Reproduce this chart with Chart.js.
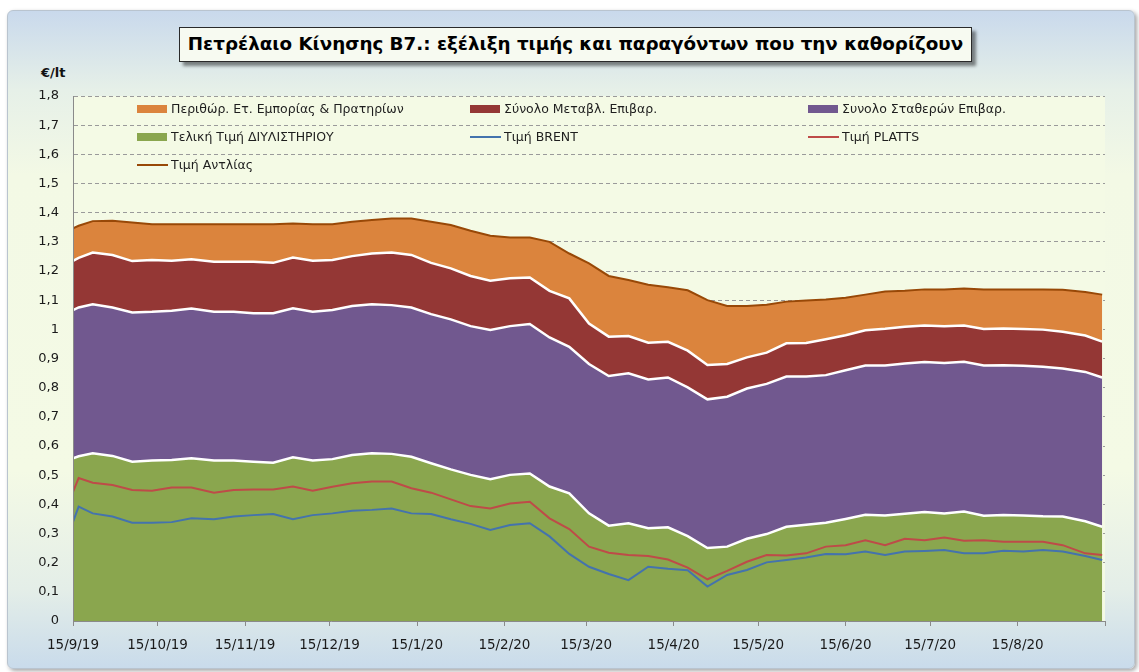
<!DOCTYPE html>
<html>
<head>
<meta charset="utf-8">
<script src="https://cdn.jsdelivr.net/npm/chart.js@4/dist/chart.umd.min.js"></script>
<style>
  html, body { margin: 0; padding: 0; background: #ffffff; }
  #wrap { position: relative; width: 1139px; height: 672px; overflow: hidden; }
  #frame {
    position: absolute; left: 7px; top: 10px; width: 1126px; height: 657px;
    border: 1px solid #b9c4cf; border-radius: 6px;
    background: linear-gradient(to bottom, #c9d9ec 0%, #e6f0e8 12%, #f3f9e5 25%, #f4fae5 70%, #e4eee8 88%, #c9dbeb 100%);
    box-shadow: 2px 2px 4px rgba(0,0,0,0.35);
  }
  #title {
    position: absolute; left: 179px; top: 27px; width: 793px; height: 35px; box-sizing: border-box;
    border: 1.5px solid #2a2a2a; background: #f7faf1;
    box-shadow: 4px 4px 3px rgba(0,0,0,0.45);
    font: bold 18.3px "DejaVu Sans", sans-serif; color: #000; text-align: center; line-height: 32px;
    white-space: nowrap;
  }
  #unit { position: absolute; left: 41px; top: 65px; font: bold 13px "DejaVu Sans", sans-serif; color: #111; }
  #c { position: absolute; left: 0; top: 0; }
</style>
</head>
<body>
<div id="wrap">
  <div id="frame"></div>
  <div id="title">Πετρέλαιο Κίνησης Β7.: εξέλιξη τιμής και παραγόντων που την καθορίζουν</div>
  <div id="unit">€/lt</div>
  <canvas id="c" width="1139" height="672"></canvas>
</div>
<script>
// days since 15/9/2019
const dayOffsets = [0, 2, 7, 14, 21, 28, 35, 42, 50, 57, 64, 71, 78, 85, 92, 99, 106, 113, 120, 127,
  134, 141, 148, 155, 162, 169, 176, 183, 190, 197, 204, 211, 218, 225, 232, 239, 246, 253, 260, 267,
  274, 281, 288, 295, 302, 309, 316, 323, 330, 337, 344, 351, 359, 365];

// stacked parts, €/lt
const refineryPrice = [0.558, 0.565, 0.575, 0.566, 0.546, 0.550, 0.552, 0.558, 0.550, 0.550, 0.546, 0.543, 0.561, 0.550, 0.555, 0.569, 0.575, 0.573, 0.563, 0.541,
  0.520, 0.501, 0.486, 0.501, 0.506, 0.461, 0.438, 0.369, 0.327, 0.335, 0.318, 0.321, 0.291, 0.250, 0.255, 0.282, 0.298, 0.323, 0.330, 0.337,
  0.350, 0.364, 0.362, 0.368, 0.374, 0.369, 0.375, 0.361, 0.363, 0.362, 0.359, 0.358, 0.342, 0.323];
const fixedTaxes = [0.508, 0.510, 0.511, 0.509, 0.512, 0.510, 0.512, 0.513, 0.510, 0.510, 0.509, 0.512, 0.511, 0.510, 0.511, 0.511, 0.511, 0.510, 0.512, 0.511,
  0.514, 0.510, 0.512, 0.510, 0.512, 0.511, 0.502, 0.512, 0.513, 0.514, 0.510, 0.514, 0.510, 0.510, 0.514, 0.515, 0.515, 0.515, 0.508, 0.506,
  0.510, 0.512, 0.514, 0.515, 0.514, 0.516, 0.514, 0.515, 0.514, 0.513, 0.513, 0.508, 0.512, 0.512];
const variableTaxes = [0.169, 0.170, 0.177, 0.180, 0.176, 0.178, 0.171, 0.169, 0.172, 0.172, 0.177, 0.173, 0.174, 0.175, 0.172, 0.171, 0.174, 0.180, 0.180, 0.176,
  0.175, 0.172, 0.169, 0.164, 0.160, 0.160, 0.166, 0.139, 0.135, 0.128, 0.126, 0.122, 0.126, 0.118, 0.112, 0.107, 0.107, 0.114, 0.115, 0.123,
  0.120, 0.121, 0.126, 0.126, 0.125, 0.126, 0.124, 0.125, 0.126, 0.126, 0.127, 0.126, 0.125, 0.123];
const retailMargin = [0.111, 0.110, 0.108, 0.117, 0.132, 0.122, 0.125, 0.120, 0.128, 0.128, 0.128, 0.132, 0.117, 0.125, 0.122, 0.118, 0.115, 0.117, 0.125, 0.141,
  0.149, 0.155, 0.154, 0.140, 0.137, 0.168, 0.154, 0.206, 0.208, 0.192, 0.199, 0.187, 0.207, 0.222, 0.199, 0.176, 0.164, 0.143, 0.146, 0.136,
  0.128, 0.122, 0.128, 0.123, 0.124, 0.126, 0.127, 0.136, 0.134, 0.136, 0.138, 0.144, 0.149, 0.161];

// line series
const pumpPrice = [1.346, 1.355, 1.371, 1.372, 1.366, 1.360, 1.360, 1.360, 1.360, 1.360, 1.360, 1.360, 1.363, 1.360, 1.360, 1.369, 1.375, 1.380, 1.380, 1.369,
  1.358, 1.338, 1.321, 1.315, 1.315, 1.300, 1.260, 1.226, 1.183, 1.169, 1.153, 1.144, 1.134, 1.100, 1.080, 1.080, 1.084, 1.095, 1.099, 1.102,
  1.108, 1.119, 1.130, 1.132, 1.137, 1.137, 1.140, 1.137, 1.137, 1.137, 1.137, 1.136, 1.128, 1.119];
const brentPrice = [0.340, 0.392, 0.369, 0.358, 0.337, 0.337, 0.339, 0.352, 0.349, 0.358, 0.363, 0.367, 0.349, 0.363, 0.369, 0.378, 0.381, 0.386, 0.369, 0.367,
  0.349, 0.333, 0.312, 0.329, 0.335, 0.290, 0.230, 0.186, 0.161, 0.140, 0.186, 0.179, 0.174, 0.118, 0.158, 0.175, 0.201, 0.209, 0.218, 0.230,
  0.229, 0.238, 0.226, 0.238, 0.240, 0.243, 0.232, 0.232, 0.241, 0.238, 0.243, 0.238, 0.223, 0.209];
const plattsPrice = [0.443, 0.490, 0.474, 0.466, 0.449, 0.447, 0.458, 0.458, 0.440, 0.449, 0.451, 0.451, 0.461, 0.447, 0.460, 0.472, 0.478, 0.478, 0.455, 0.440,
  0.417, 0.394, 0.386, 0.403, 0.409, 0.352, 0.315, 0.255, 0.234, 0.226, 0.223, 0.211, 0.183, 0.143, 0.172, 0.203, 0.226, 0.225, 0.232, 0.255,
  0.260, 0.277, 0.260, 0.282, 0.277, 0.286, 0.275, 0.277, 0.272, 0.272, 0.272, 0.260, 0.232, 0.226];

const tickDays = [0, 30, 61, 91, 122, 153, 182, 213, 243, 274, 304, 335, 366];
const tickLabels = ['15/9/19', '15/10/19', '15/11/19', '15/12/19', '15/1/20', '15/2/20', '15/3/20',
  '15/4/20', '15/5/20', '15/6/20', '15/7/20', '15/8/20', ''];

const pts = arr => arr.map((v, i) => ({ x: dayOffsets[i], y: v }));

const area = (label, values, color, border, fill) => ({
  label, data: pts(values), backgroundColor: color, borderColor: border,
  borderWidth: border ? 2.5 : 0, fill, pointRadius: 0, tension: 0, order: 2,
});
const line = (label, values, color, stack) => ({
  label, data: pts(values), borderColor: color, backgroundColor: color,
  borderWidth: 2, fill: false, pointRadius: 0, tension: 0, stack, order: 1,
});

const datasets = [
  area('Τελική Τιμή ΔΙΥΛΙΣΤΗΡΙΟΥ', refineryPrice, '#8aa64e', '#ffffff', 'origin'),
  area('Συνολο Σταθερών Επιβαρ.', fixedTaxes, '#71588f', '#ffffff', '-1'),
  area('Σύνολο Μεταβλ. Επιβαρ.', variableTaxes, '#943735', '#ffffff', '-1'),
  area('Περιθώρ. Ετ. Εμπορίας & Πρατηρίων', retailMargin, '#db843d', null, '-1'),
  line('Τιμή Αντλίας', pumpPrice, '#984807', 'pump'),
  line('Τιμή BRENT', brentPrice, '#4473ad', 'brent'),
  line('Τιμή PLATTS', plattsPrice, '#be4b48', 'platts'),
];

// legend drawn inside the plot, three columns
const legendSlots = [
  { ds: 3, x: 137, y: 109 }, { ds: 2, x: 470, y: 109 }, { ds: 1, x: 808, y: 109 },
  { ds: 0, x: 137, y: 137 }, { ds: 5, x: 470, y: 137 }, { ds: 6, x: 808, y: 137 },
  { ds: 4, x: 137, y: 165 },
];

const plotBg = {
  id: 'plotBg',
  beforeDraw(chart) {
    const { ctx, chartArea: a } = chart;
    ctx.save();
    ctx.fillStyle = '#f4fae5';
    ctx.fillRect(a.left, a.top, a.right - a.left, a.bottom - a.top);
    ctx.restore();
  },
};

const insideLegend = {
  id: 'insideLegend',
  afterDraw(chart) {
    const ctx = chart.ctx;
    ctx.save();
    ctx.font = '12.5px "DejaVu Sans", sans-serif';
    ctx.textBaseline = 'middle';
    legendSlots.forEach(s => {
      const ds = chart.data.datasets[s.ds];
      if (ds.fill) {
        ctx.fillStyle = ds.backgroundColor;
        ctx.fillRect(s.x, s.y - 4, 30, 8);
      } else {
        ctx.strokeStyle = ds.borderColor;
        ctx.lineWidth = 2;
        ctx.beginPath();
        ctx.moveTo(s.x, s.y);
        ctx.lineTo(s.x + 31, s.y);
        ctx.stroke();
      }
      ctx.fillStyle = '#1e1e1e';
      ctx.fillText(ds.label, s.x + 34, s.y + 1);
    });
    ctx.restore();
  },
};

new Chart(document.getElementById('c').getContext('2d'), {
  type: 'line',
  data: { datasets },
  options: {
    responsive: false,
    animation: false,
    devicePixelRatio: 1,
    layout: { padding: { left: 0, top: 96, right: 34, bottom: 0 } },
    plugins: { legend: { display: false }, tooltip: { enabled: false }, title: { display: false } },
    scales: {
      x: {
        type: 'linear', min: 0, max: 366,
        afterBuildTicks: scale => { scale.ticks = tickDays.map(v => ({ value: v })); },
        afterFit: scale => { scale.height = 51; },
        ticks: {
          autoSkip: false, maxRotation: 0, padding: 11, color: '#1a1a1a',
          font: { family: '"DejaVu Sans", sans-serif', size: 13.5 },
          callback: (v, i) => tickLabels[i],
        },
        grid: { drawOnChartArea: false, drawTicks: true, tickLength: 5, color: '#8a8a8a' },
        border: { color: '#8a8a8a', width: 1, z: 1 },
      },
      y: {
        stacked: true, min: 0, max: 1.8,
        afterFit: scale => { scale.width = 73; },
        ticks: {
          stepSize: 0.1, padding: 14, color: '#1a1a1a',
          font: { family: '"DejaVu Sans", sans-serif', size: 13 },
          callback: v => String(Number(v.toFixed(1))).replace('.', ','),
        },
        grid: {
          drawTicks: false,
          color: c => (c.tick && c.tick.value === 0 ? 'rgba(0,0,0,0)' : '#9a9a9a'),
        },
        border: { color: '#8a8a8a', width: 1, dash: [4, 3], z: 1 },
      },
    },
  },
  plugins: [plotBg, insideLegend],
});
</script>
</body>
</html>
